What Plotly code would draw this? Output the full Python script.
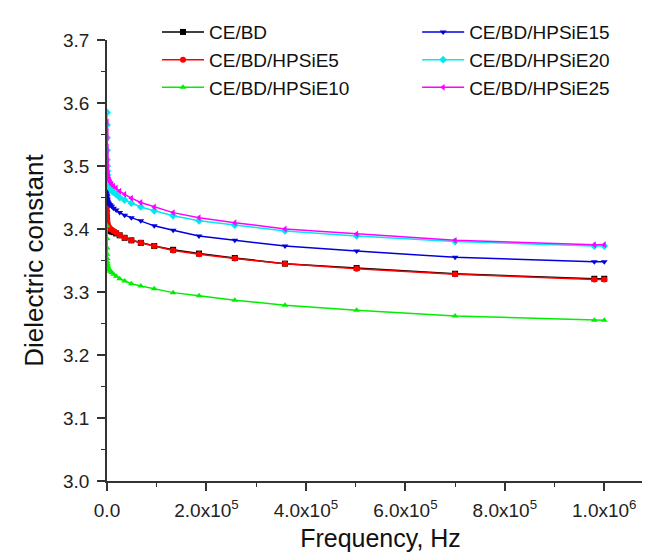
import plotly.graph_objects as go

freq = [100, 130, 180, 250, 350, 490, 680, 950, 1300, 1800, 2500, 3500, 4900, 6800, 9500,
        13200, 18400, 25500, 35500, 49000, 68000, 95000, 133000, 185000, 257000, 358000,
        502000, 700000, 980000, 1000000]

ce_bd = [3.412, 3.409, 3.407, 3.405, 3.404, 3.403, 3.402, 3.401, 3.400, 3.400, 3.399, 3.399,
         3.398, 3.397, 3.396, 3.395, 3.393, 3.390, 3.386, 3.382, 3.378, 3.373, 3.367, 3.361,
         3.354, 3.345, 3.338, 3.329, 3.321, 3.321]
hpsie5 = [3.445, 3.435, 3.428, 3.422, 3.417, 3.413, 3.410, 3.408, 3.406, 3.405, 3.404, 3.403,
          3.402, 3.400, 3.399, 3.397, 3.394, 3.390, 3.386, 3.382, 3.378, 3.373, 3.366, 3.360,
          3.353, 3.345, 3.337, 3.328, 3.320, 3.320]
hpsie10 = [3.405, 3.385, 3.370, 3.360, 3.353, 3.348, 3.345, 3.342, 3.340, 3.339, 3.338, 3.336,
           3.335, 3.333, 3.331, 3.328, 3.325, 3.321, 3.3175, 3.313, 3.3095, 3.305, 3.299, 3.294,
           3.287, 3.279, 3.271, 3.262, 3.255, 3.255]
hpsie15 = [3.470, 3.463, 3.458, 3.454, 3.451, 3.448, 3.446, 3.444, 3.443, 3.442, 3.441, 3.440,
           3.439, 3.438, 3.436, 3.433, 3.430, 3.426, 3.422, 3.418, 3.413, 3.405, 3.398, 3.389,
           3.382, 3.373, 3.365, 3.355, 3.348, 3.348]
hpsie20 = [3.585, 3.565, 3.545, 3.525, 3.510, 3.500, 3.492, 3.486, 3.481, 3.477, 3.473, 3.470,
           3.467, 3.464, 3.461, 3.458, 3.455, 3.450, 3.446, 3.441, 3.435, 3.429, 3.421, 3.413,
           3.406, 3.397, 3.389, 3.380, 3.373, 3.373]
hpsie25 = [3.570, 3.555, 3.545, 3.530, 3.520, 3.510, 3.503, 3.497, 3.492, 3.488, 3.484, 3.480,
           3.477, 3.474, 3.471, 3.468, 3.465, 3.460, 3.455, 3.449, 3.442, 3.435, 3.426, 3.418,
           3.410, 3.400, 3.392, 3.382, 3.375, 3.375]

x_tickvals = [0, 200000, 400000, 600000, 800000, 1000000]
x_ticktext = ["0.0", "2.0x10<sup>5</sup>", "4.0x10<sup>5</sup>", "6.0x10<sup>5</sup>",
              "8.0x10<sup>5</sup>", "1.0x10<sup>6</sup>"]
x_minor = [100000, 300000, 500000, 700000, 900000, 1100000]

series = [
    ("CE/BD", ce_bd, "#000000", "square", "legend"),
    ("CE/BD/HPSiE5", hpsie5, "#ff0000", "circle", "legend"),
    ("CE/BD/HPSiE10", hpsie10, "#00ee00", "triangle-up", "legend"),
    ("CE/BD/HPSiE15", hpsie15, "#0000dd", "triangle-down", "legend2"),
    ("CE/BD/HPSiE20", hpsie20, "#00e8f0", "diamond", "legend2"),
    ("CE/BD/HPSiE25", hpsie25, "#ff00ff", "triangle-left", "legend2"),
]

fig = go.Figure()
for name, vals, color, sym, leg in series:
    fig.add_trace(go.Scatter(
        x=freq, y=vals, name=name, mode="lines+markers",
        line=dict(color=color, width=1.5),
        marker=dict(color=color, symbol=sym, size=6),
        legend=leg,
    ))

FONT = "Liberation Sans, Arial, sans-serif"
tick_font = dict(family=FONT, size=19, color="#222")
leg_common = dict(yanchor="top", xanchor="left", font=dict(family=FONT, size=19, color="#111"),
                  bgcolor="rgba(0,0,0,0)", tracegroupgap=0, itemwidth=42)

fig.update_layout(
    width=650, height=557,
    margin=dict(l=99, r=4, t=32, b=84),
    paper_bgcolor="white", plot_bgcolor="white",
    font=dict(family=FONT, color="#222"),
    legend=dict(x=0.0914, y=1.061, **leg_common),
    legend2=dict(x=0.567, y=1.061, **leg_common),
    xaxis=dict(range=[0, 1100000], tickvals=x_tickvals, ticktext=x_ticktext,
               showgrid=False, zeroline=False, showline=True, linecolor="#333",
               linewidth=1.5, ticks="outside", ticklen=8, tickwidth=1.5, tickcolor="#333",
               ticklabelstandoff=3,
               minor=dict(tickvals=x_minor, ticks="outside", ticklen=4, tickwidth=1.2,
                          tickcolor="#333"),
               tickfont=tick_font,
               title=dict(text="Frequency, Hz", font=dict(family=FONT, size=25, color="#111"),
                          standoff=10)),
    yaxis=dict(range=[3.0, 3.7], dtick=0.1, tick0=3.0, tickformat=".1f",
               showgrid=False, zeroline=False, showline=True, linecolor="#333",
               linewidth=1.5, ticks="outside", ticklen=8, tickwidth=1.5, tickcolor="#333",
               ticklabelstandoff=4,
               minor=dict(dtick=0.05, ticks="outside", ticklen=4, tickwidth=1.2,
                          tickcolor="#333"),
               tickfont=tick_font,
               title=dict(text="Dielectric constant", font=dict(family=FONT, size=26, color="#111"),
                          standoff=12)),
)

fig.write_html("out.html")
